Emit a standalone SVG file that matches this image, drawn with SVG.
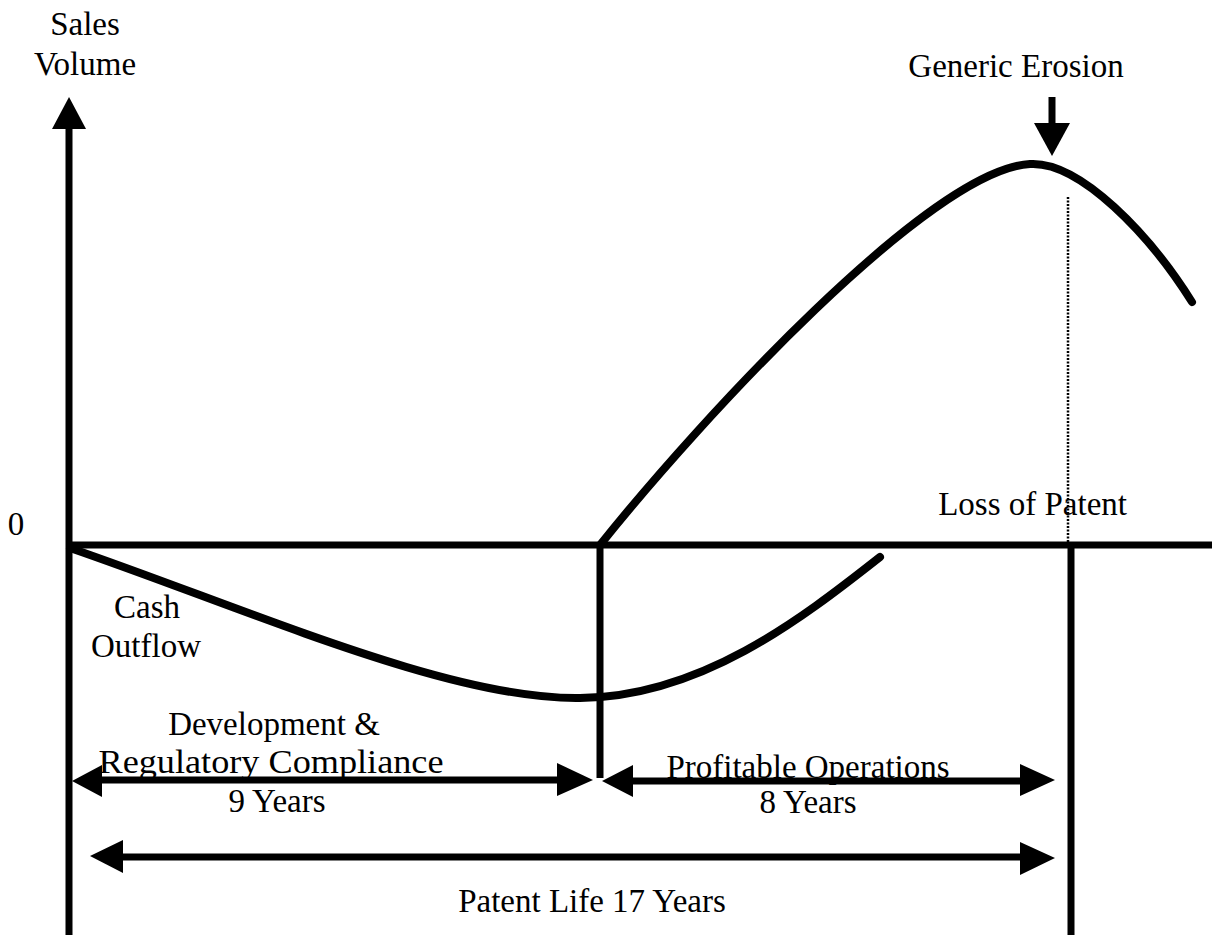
<svg xmlns="http://www.w3.org/2000/svg" width="1212" height="935" viewBox="0 0 1212 935">
  <style>
    .t { font-family: "Liberation Serif", "Times New Roman", serif; font-size: 33px; fill: #000; }
    .ln { stroke: #000; stroke-width: 7; fill: none; }
    .cv { stroke: #000; stroke-width: 8; fill: none; stroke-linecap: round; }
    .hd { fill: #000; stroke: none; }
  </style>
  <rect width="1212" height="935" fill="#fff"/>

  <g id="axes">
    <line class="ln" x1="69" y1="935" x2="69" y2="125"/>
    <polygon class="hd" points="69,97 52,129 86,129"/>
    <line class="ln" x1="66" y1="545" x2="1212" y2="545"/>
  </g>

  <g id="connectors">
    <line class="ln" x1="600" y1="545" x2="600" y2="778" stroke-width="6"/>
    <line class="ln" x1="1071" y1="545" x2="1071" y2="935"/>
    <line x1="1068" y1="197" x2="1068" y2="545" stroke="#000" stroke-width="2.5" stroke-dasharray="2,1.5"/>
    <!-- generic erosion arrow -->
    <line class="ln" x1="1052" y1="97" x2="1052" y2="126"/>
    <polygon class="hd" points="1034,123 1070,123 1052,156"/>
    <!-- 9 years arrow -->
    <line class="ln" x1="95" y1="780" x2="565" y2="780"/>
    <polygon class="hd" points="72,781 102,765 102,797"/>
    <polygon class="hd" points="593,780 557,763 557,796"/>
    <!-- 8 years arrow -->
    <line class="ln" x1="625" y1="781" x2="1025" y2="781"/>
    <polygon class="hd" points="602,781 633,765 633,797"/>
    <polygon class="hd" points="1055,780 1020,764 1020,796"/>
    <!-- patent life arrow -->
    <line class="ln" x1="115" y1="857" x2="1025" y2="857"/>
    <polygon class="hd" points="90,856 123,840 123,873"/>
    <polygon class="hd" points="1055,858 1020,842 1020,875"/>
  </g>

  <g id="sales-curve">
    <path class="cv" d="M600,545 C700,420 930,170 1030,164 C1080,161 1150,235 1192,302"/>
  </g>
  <g id="cash-curve">
    <path class="cv" d="M70,548 C250,610 450,700 580,698 C700,697 800,620 880,557"/>
  </g>

  <g id="labels">
    <text class="t" x="85" y="35" text-anchor="middle">Sales</text>
    <text class="t" x="85" y="75" text-anchor="middle">Volume</text>
    <text class="t" x="16" y="535" text-anchor="middle">0</text>
    <text class="t" x="1016" y="77" text-anchor="middle">Generic Erosion</text>
    <text class="t" x="1127" y="515" text-anchor="end">Loss of Patent</text>
    <text class="t" x="147" y="618" text-anchor="middle">Cash</text>
    <text class="t" x="146" y="657" text-anchor="middle">Outflow</text>
    <text class="t" x="274" y="735" text-anchor="middle">Development &amp;</text>
    <text class="t" x="271" y="773" text-anchor="middle" textLength="345" lengthAdjust="spacingAndGlyphs">Regulatory Compliance</text>
    <text class="t" x="277" y="812" text-anchor="middle">9 Years</text>
    <text class="t" x="808" y="778" text-anchor="middle">Profitable Operations</text>
    <text class="t" x="808" y="813" text-anchor="middle">8 Years</text>
    <text class="t" x="592" y="912" text-anchor="middle">Patent Life 17 Years</text>
  </g>
</svg>
